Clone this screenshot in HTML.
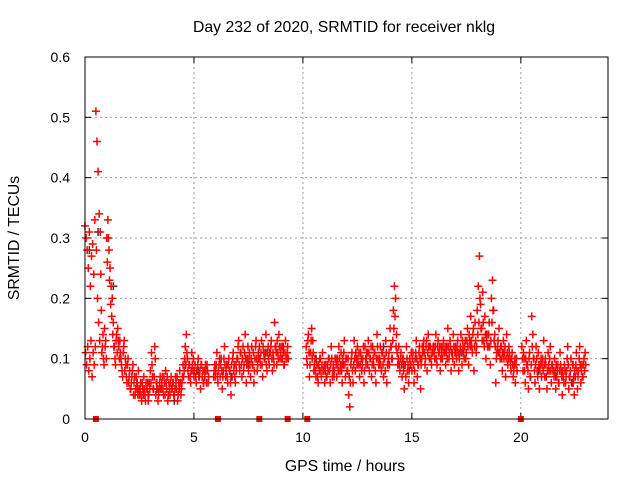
<!DOCTYPE html>
<html><head><meta charset="utf-8"><style>
body{margin:0;background:#fff}
svg{display:block;font-family:"Liberation Sans",sans-serif}
</style></head><body>
<svg id="chart" width="640" height="480" viewBox="0 0 640 480">
<rect width="640" height="480" fill="#fff"/>
<text x="344" y="32" font-size="15.8" text-anchor="middle">Day 232 of 2020, SRMTID for receiver nklg</text>
<g id="grid"></g>
<g id="ticks"></g>
<g id="marks"></g>
<rect x="85" y="57" width="523" height="362" fill="none" stroke="#000" stroke-width="1"/>
<text x="345" y="471" font-size="15.8" text-anchor="middle">GPS time / hours</text>
<text x="19" y="238" font-size="15.8" text-anchor="middle" transform="rotate(-90 19 238)">SRMTID / TECUs</text>
</svg>
<script>
const xTicks=[0,5,10,15,20];
const yTicks=[0,0.1,0.2,0.3,0.4,0.5,0.6];
const yTickLabels=["0","0.1","0.2","0.3","0.4","0.5","0.6"];
const timeStep=0.05;
const srmtid=[
0.32,0.30,0.28,0.25,0.31,0.22,0.27,0.29,0.24,0.33,
0.51,0.46,0.41,0.34,0.31,0.18,0.12,0.10,0.15,0.13,
0.30,0.33,0.28,0.25,0.22,0.20,0.16,0.12,0.09,0.14,
0.15,0.12,0.13,0.10,0.08,0.11,0.13,0.10,0.07,0.09,
0.06,0.08,0.05,0.07,0.09,0.06,0.04,0.07,0.05,0.08,
0.04,0.06,0.03,0.05,0.07,0.04,0.06,0.05,0.03,0.06,
0.08,0.11,0.07,0.05,0.12,0.04,0.06,0.03,0.05,0.07,
0.05,0.07,0.04,0.06,0.08,0.05,0.03,0.06,0.04,0.07,
0.05,0.06,0.04,0.07,0.05,0.03,0.06,0.08,0.04,0.06,
0.09,0.08,0.12,0.14,0.10,0.07,0.09,0.06,0.11,0.08,
0.07,0.09,0.06,0.08,0.10,0.07,0.05,0.09,0.08,0.06,
0.07,0.08,0.09,0.06,null,null,null,null,0.07,0.09,
0.08,0.11,0.06,0.09,0.07,0.10,0.05,0.08,0.12,0.07,
0.09,0.06,0.10,0.08,0.04,0.07,0.11,0.09,0.06,0.08,
0.10,0.13,0.08,0.11,0.07,0.12,0.09,0.14,0.06,0.10,
0.08,0.11,0.07,0.12,0.09,0.06,0.10,0.13,0.08,0.11,
0.12,0.09,0.13,0.07,0.11,0.10,0.14,0.08,0.12,0.09,
0.11,0.13,0.08,0.10,0.16,0.12,0.09,0.11,0.14,0.10,
0.12,0.10,0.11,0.09,0.13,0.10,0.12,null,null,null,
null,null,null,null,null,null,null,null,null,null,
null,null,null,0.12,0.09,0.14,0.07,0.11,0.15,0.13,
0.08,0.10,0.07,0.09,0.06,0.08,0.10,0.07,0.11,0.08,
0.06,0.09,0.07,0.08,0.10,0.06,0.12,0.07,0.09,0.08,
0.10,0.07,0.09,0.12,0.08,0.11,0.06,0.09,0.13,0.07,
0.10,0.08,0.04,0.02,0.09,0.11,0.06,0.13,0.08,0.10,
0.12,0.09,0.07,0.11,0.08,0.10,0.06,0.12,0.09,0.11,
0.13,0.08,0.10,0.07,0.12,0.09,0.11,0.06,0.14,0.10,
0.09,0.12,0.08,0.11,0.07,0.10,0.13,0.06,0.09,0.11,
0.15,0.12,0.10,0.18,0.22,0.20,0.14,0.09,0.12,0.08,
0.11,0.07,0.10,0.05,0.09,0.12,0.08,0.06,0.10,0.09,
0.08,0.11,0.06,0.10,0.13,0.07,0.09,0.12,0.05,0.10,
0.11,0.13,0.09,0.12,0.08,0.14,0.10,0.12,0.09,0.11,
0.12,0.10,0.14,0.09,0.13,0.11,0.08,0.12,0.10,0.13,
0.11,0.09,0.12,0.15,0.10,0.13,0.08,0.11,0.14,0.09,
0.12,0.10,0.13,0.08,0.11,0.14,0.09,0.12,0.10,0.13,
0.11,0.15,0.09,0.13,0.17,0.12,0.14,0.08,0.16,0.11,
0.18,0.22,0.27,0.19,0.15,0.21,0.13,0.17,0.10,0.14,
0.12,0.16,0.09,0.20,0.23,0.18,0.14,0.06,0.11,0.13,
0.15,0.10,0.12,0.08,0.13,0.11,0.07,0.14,0.09,0.12,
0.10,0.08,0.11,0.07,0.09,0.06,0.10,null,null,null,
null,0.12,0.08,0.10,0.06,0.13,0.09,0.05,0.11,0.07,
0.17,0.14,0.10,0.06,0.12,0.08,0.11,0.05,0.09,0.07,
0.10,0.13,0.07,0.09,0.05,0.11,0.08,0.12,0.06,0.09,
0.08,0.10,0.05,0.07,0.09,0.06,0.11,0.08,0.04,0.07,
0.09,0.06,0.08,0.12,0.05,0.07,0.10,0.06,0.09,0.04,
0.07,0.11,0.05,0.08,0.12,0.06,0.09,0.07,0.10,0.11
];
const srmtidB=[
0.11,0.09,0.12,0.08,0.10,0.13,0.07,0.11,0.09,0.12,
0.28,0.20,0.16,0.13,0.24,0.11,0.14,0.09,0.12,0.10,
0.26,0.30,0.23,0.19,0.17,0.14,0.12,0.10,0.13,0.11,
0.13,0.10,0.11,0.09,0.07,0.12,0.08,0.09,0.06,0.10,
0.07,0.05,0.06,0.08,0.04,0.07,0.05,0.06,0.04,0.05,
0.05,0.04,0.06,0.04,0.05,0.03,0.05,0.06,0.04,0.05,
0.06,0.09,0.05,0.07,0.10,0.06,0.05,0.04,0.06,0.05,
0.06,0.05,0.07,0.04,0.06,0.07,0.04,0.05,0.06,0.05,
0.06,0.04,0.05,0.06,0.07,0.04,0.05,0.06,0.05,0.07,
0.07,0.10,0.09,0.11,0.08,0.09,0.07,0.08,0.09,0.10,
0.08,0.07,0.08,0.09,0.07,0.08,0.09,0.07,0.06,0.08,
0.09,0.06,0.08,0.07,null,null,null,null,0.08,0.07,
0.09,0.07,0.08,0.10,0.09,0.08,0.07,0.10,0.09,0.08,
0.07,0.09,0.08,0.06,0.09,0.10,0.08,0.07,0.09,0.10,
0.12,0.09,0.11,0.09,0.10,0.08,0.11,0.10,0.09,0.12,
0.10,0.09,0.10,0.09,0.11,0.08,0.12,0.10,0.09,0.10,
0.10,0.11,0.09,0.12,0.10,0.11,0.09,0.11,0.10,0.11,
0.12,0.10,0.11,0.09,0.12,0.11,0.13,0.10,0.12,0.11,
0.10,0.12,0.09,0.11,0.10,0.11,0.10,null,null,null,
null,null,null,null,null,null,null,null,null,null,
null,null,null,0.10,0.13,0.11,0.09,0.13,0.10,0.11,
0.09,0.08,0.09,0.07,0.09,0.10,0.08,0.09,0.08,0.09,
0.08,0.07,0.09,0.10,0.08,0.09,0.10,0.08,0.07,0.10,
0.09,0.10,0.08,0.10,0.09,0.08,0.10,0.11,0.09,0.10,
0.08,0.10,0.07,0.06,0.10,0.08,0.09,0.10,0.11,0.09,
0.10,0.11,0.09,0.10,0.09,0.12,0.08,0.10,0.11,0.09,
0.11,0.10,0.12,0.09,0.10,0.11,0.08,0.10,0.12,0.09,
0.10,0.09,0.11,0.09,0.10,0.08,0.11,0.09,0.10,0.09,
0.12,0.10,0.13,0.15,0.17,0.12,0.11,0.10,0.09,0.10,
0.09,0.10,0.08,0.09,0.07,0.10,0.09,0.08,0.09,0.11,
0.10,0.09,0.08,0.11,0.10,0.09,0.11,0.10,0.09,0.12,
0.12,0.11,0.10,0.13,0.11,0.12,0.12,0.10,0.11,0.12,
0.11,0.12,0.10,0.12,0.11,0.12,0.10,0.11,0.12,0.11,
0.12,0.11,0.10,0.12,0.11,0.12,0.11,0.10,0.12,0.11,
0.11,0.12,0.11,0.10,0.12,0.11,0.13,0.11,0.12,0.10,
0.13,0.12,0.14,0.12,0.13,0.11,0.15,0.12,0.13,0.12,
0.14,0.16,0.20,0.15,0.13,0.16,0.12,0.14,0.13,0.12,
0.14,0.12,0.13,0.16,0.18,0.13,0.12,0.10,0.12,0.11,
0.11,0.12,0.10,0.11,0.10,0.12,0.10,0.11,0.10,0.11,
0.09,0.10,0.09,0.08,0.10,0.09,0.08,null,null,null,
null,0.10,0.11,0.08,0.10,0.09,0.08,0.10,0.07,0.09,
0.12,0.10,0.08,0.09,0.10,0.07,0.09,0.08,0.10,0.09,
0.08,0.09,0.10,0.07,0.08,0.09,0.10,0.08,0.09,0.08,
0.07,0.08,0.09,0.08,0.06,0.08,0.09,0.07,0.08,0.06,
0.08,0.07,0.10,0.09,0.07,0.08,0.06,0.09,0.07,0.08,
0.09,0.08,0.07,0.10,0.09,0.08,0.07,0.09,0.08,0.09
];
const darkHours=[0.2,0.6,1.3,2.4,2.9,3.3,4.1,4.6,5.2,6.7,7.5,8.3,9.1,10.6,11.8,12.9,13.7,14.6,15.4,16.6,17.3,18.4,19.2,20.8,21.6,22.4];
const darkValues=[0.28,0.31,0.22,0.06,0.04,0.05,0.03,0.09,0.08,0.07,0.09,0.11,0.12,0.10,0.09,0.10,0.12,0.09,0.10,0.12,0.11,0.14,0.11,0.08,0.07,0.06];
const zeroHours=[0.5,6.1,8.0,9.3,10.2,20.0];

const NS="http://www.w3.org/2000/svg";
const X0=85,X1=608,Y0=419,Y1=57,XMAX=24,YMAX=0.6;
function xs(h){return X0+(X1-X0)*h/XMAX;}
function ys(v){return Y0-(Y0-Y1)*v/YMAX;}
const grid=document.getElementById('grid');
const ticks=document.getElementById('ticks');
const marks=document.getElementById('marks');
function mk(tag,attrs,parent){const e=document.createElementNS(NS,tag);for(const k in attrs)e.setAttribute(k,attrs[k]);parent.appendChild(e);return e;}

yTicks.forEach((v,i)=>{
  const y=ys(v);
  if(v>0&&v<YMAX){
    const g=mk('line',{x1:X0,x2:X1,y1:y,y2:y,stroke:'#999','stroke-dasharray':'2,3'},grid);
    
    
  }
  const t1=mk('line',{x1:X0,x2:X0+6,y1:y,y2:y,stroke:'#000'},ticks);
  
  
  const t2=mk('line',{x1:X1-6,x2:X1,y1:y,y2:y,stroke:'#000'},ticks);
  
  
  const l=mk('text',{x:70,y:y+5,'font-size':14,'text-anchor':'end'},ticks);
  l.textContent=yTickLabels[i];
  
  
});
xTicks.forEach(h=>{
  const x=xs(h);
  if(h>0){
    const g=mk('line',{x1:x,x2:x,y1:Y1,y2:Y0,stroke:'#999','stroke-dasharray':'2,3'},grid);
    
    
  }
  const t1=mk('line',{x1:x,x2:x,y1:Y0,y2:Y0-6,stroke:'#000'},ticks);
  
  
  const t2=mk('line',{x1:x,x2:x,y1:Y1,y2:Y1+6,stroke:'#000'},ticks);
  
  
  const l=mk('text',{x:x,y:442,'font-size':14,'text-anchor':'middle'},ticks);
  l.textContent=String(h);
  
  
});
function plus(x,y,color){
  const p=mk('path',{d:`M${x-4},${y}h8M${x},${y-4}v8`,stroke:color,'stroke-width':1.5,fill:'none'},marks);
  
  
}
darkHours.forEach((h,i)=>plus(xs(h),ys(darkValues[i]),'#333'));
srmtidB.forEach((v,i)=>{if(v!==null)plus(xs(i*timeStep+0.025),ys(v),'#f00');});
srmtid.forEach((v,i)=>{if(v!==null)plus(xs(i*timeStep),ys(v),'#f00');});
zeroHours.forEach(h=>{
  const r=mk('rect',{x:xs(h)-3,y:Y0-3,width:6,height:6,fill:'#f00'},marks);
  
  
});
</script>
</body></html>
